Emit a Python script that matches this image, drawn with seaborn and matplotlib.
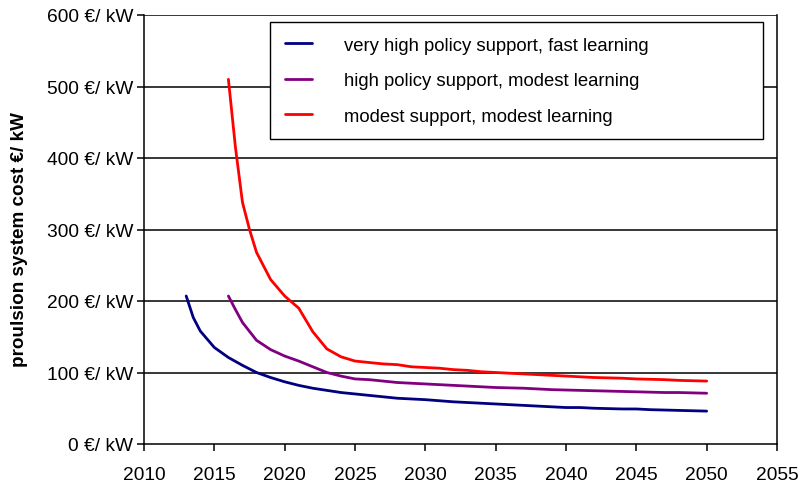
import numpy as np
import pandas as pd
import matplotlib
matplotlib.use("Agg")
import matplotlib.pyplot as plt
import seaborn as sns

# Scenario curves (EUR per kW)
years_blue = [2013, 2013.5, 2014, 2015, 2016, 2017, 2018, 2019, 2020, 2021, 2022,
              2023, 2024, 2025, 2026, 2027, 2028, 2029, 2030, 2031, 2032, 2033,
              2034, 2035, 2036, 2037, 2038, 2039, 2040, 2041, 2042, 2043, 2044,
              2045, 2046, 2047, 2048, 2049, 2050]
cost_blue = [207, 177, 158, 135, 121, 110, 100, 93, 87, 82, 78, 75, 72, 70, 68, 66,
             64, 63, 62, 60.5, 59, 58, 57, 56, 55, 54, 53, 52, 51, 51, 50, 49.5, 49,
             49, 48, 47.5, 47, 46.5, 46]

years_purple = [2016, 2016.5, 2017, 2018, 2019, 2020, 2021, 2022, 2023, 2024, 2025,
                2026, 2027, 2028, 2029, 2030, 2031, 2032, 2033, 2034, 2035, 2036,
                2037, 2038, 2039, 2040, 2041, 2042, 2043, 2044, 2045, 2046, 2047,
                2048, 2049, 2050]
cost_purple = [207, 188, 170, 145, 132, 123, 116, 108, 100, 95, 91, 90, 88, 86, 85,
               84, 83, 82, 81, 80, 79, 78.5, 78, 77, 76, 75.5, 75, 74.5, 74, 73.5,
               73, 72.5, 72, 72, 71.5, 71]

years_red = [2016, 2016.5, 2017, 2017.5, 2018, 2019, 2020, 2021, 2022, 2023, 2024,
             2025, 2026, 2027, 2028, 2029, 2030, 2031, 2032, 2033, 2034, 2035, 2036,
             2037, 2038, 2039, 2040, 2041, 2042, 2043, 2044, 2045, 2046, 2047, 2048,
             2049, 2050]
cost_red = [510, 415, 338, 300, 268, 230, 207, 190, 157, 133, 122, 116, 114, 112,
            111, 108, 107, 106, 104, 103, 101, 100, 99, 98, 97, 96, 95, 94, 93,
            92.5, 92, 91, 90.5, 90, 89, 88.5, 88]

labels = ["very high policy support, fast learning",
          "high policy support, modest learning",
          "modest support, modest learning"]
colors = ["#000080", "#800080", "#FF0000"]

y_ticks = [0, 100, 200, 300, 400, 500, 600]
y_tick_labels = [f"{v} €/ kW" for v in y_ticks]
x_ticks = list(range(2010, 2056, 5))

df = pd.concat([
    pd.DataFrame({"year": years_blue, "cost": cost_blue, "scenario": labels[0]}),
    pd.DataFrame({"year": years_purple, "cost": cost_purple, "scenario": labels[1]}),
    pd.DataFrame({"year": years_red, "cost": cost_red, "scenario": labels[2]}),
], ignore_index=True)

sns.set_style("white")
plt.rcParams["font.family"] = ["Liberation Sans", "DejaVu Sans"]
plt.rcParams["text.color"] = "black"
plt.rcParams["axes.labelcolor"] = "black"
plt.rcParams["xtick.color"] = "black"
plt.rcParams["ytick.color"] = "black"

fig = plt.figure(figsize=(8.03, 4.85), dpi=100)
ax = fig.add_axes([144 / 803, 1 - 445 / 485, 633 / 803, 429 / 485])

# horizontal grid lines
for v in y_ticks[1:]:
    ax.axhline(v, color="black", lw=1.1, zorder=1)

sns.lineplot(data=df, x="year", y="cost", hue="scenario", hue_order=labels,
             palette=colors, lw=2.0, ax=ax, zorder=3)

ax.set_xlim(2010, 2055)
ax.set_ylim(0, 600)
ax.set_xticks(x_ticks)
ax.set_xticklabels([str(x) for x in x_ticks], fontsize=13.8)
ax.set_yticks(y_ticks)
ax.set_yticklabels(y_tick_labels, fontsize=13.8)
ax.tick_params(axis="both", direction="out", length=5, width=1.1,
               bottom=True, left=True, pad=3)
ax.tick_params(axis="x", pad=11)
for side, sp in ax.spines.items():
    sp.set_color("black")
    sp.set_linewidth(1.1)
ax.spines["top"].set_visible(False)

ax.set_xlabel("")
ax.set_ylabel("proulsion system cost €/ kW", fontsize=13.6, fontweight="bold")
ax.yaxis.set_label_coords(-0.184, 0.48)

leg = ax.legend(loc="upper left", bbox_to_anchor=(0.199, 0.711, 0.779, 0.273),
                mode="expand", fontsize=13.3, frameon=True, fancybox=False,
                handlelength=1.45, handletextpad=1.75, labelspacing=1.0,
                borderpad=0.8, borderaxespad=0)
leg.get_frame().set_edgecolor("black")
leg.get_frame().set_linewidth(1.0)
leg.get_frame().set_alpha(1)
leg.set_zorder(5)

fig.savefig("out.png", dpi=100)
